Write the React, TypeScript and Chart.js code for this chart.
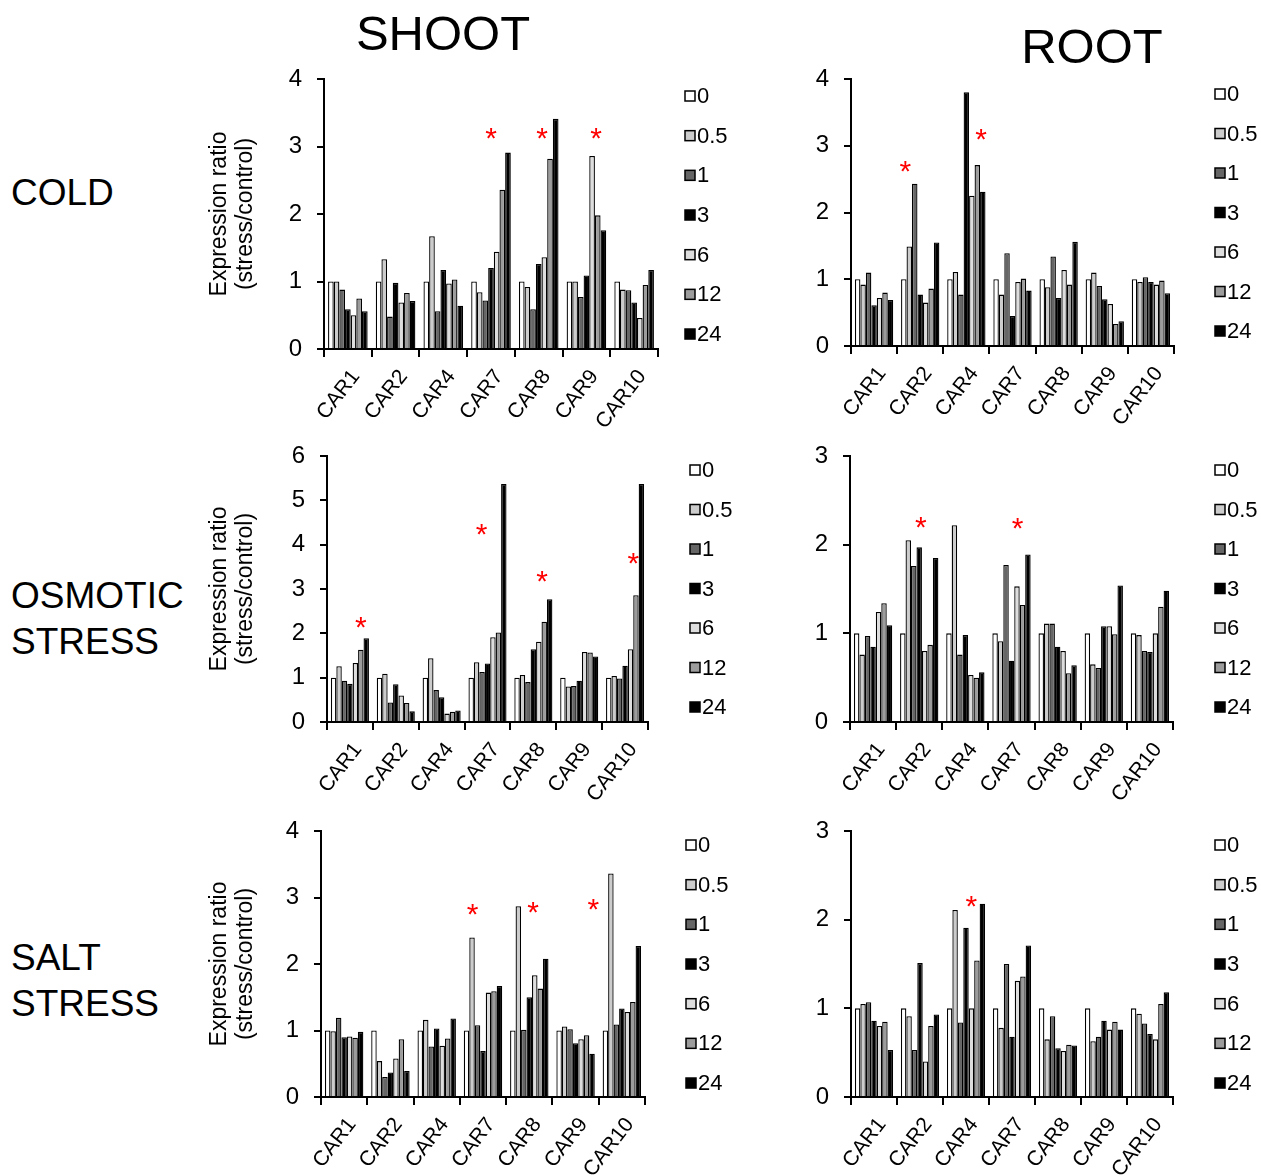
import React, { useEffect, useRef } from "react";
import { Chart, registerables } from "chart.js";

Chart.register(...registerables);

const FONT = "'Liberation Sans', Arial, Helvetica, sans-serif";

const categories = ["CAR1", "CAR2", "CAR4", "CAR7", "CAR8", "CAR9", "CAR10"];
const seriesLabels = ["0", "0.5", "1", "3", "6", "12", "24"];
const seriesColors = ["#ffffff", "#cccccc", "#666666", "#000000", "#dddddd", "#9c9c9c", "#000000"];

// rows = categories, columns = time points (h)
const coldShoot = [
  [1.0, 1.0, 0.88, 0.59, 0.5, 0.75, 0.56],
  [1.0, 1.33, 0.48, 0.98, 0.69, 0.83, 0.71],
  [1.0, 1.67, 0.56, 1.17, 0.97, 1.03, 0.64],
  [1.0, 0.84, 0.72, 1.2, 1.44, 2.36, 2.91],
  [1.0, 0.92, 0.59, 1.26, 1.36, 2.82, 3.41],
  [1.0, 1.0, 0.77, 1.09, 2.86, 1.98, 1.76],
  [1.0, 0.88, 0.87, 0.69, 0.46, 0.95, 1.17],
];
const coldRoot = [
  [1.0, 0.92, 1.1, 0.61, 0.72, 0.8, 0.69],
  [1.0, 1.49, 2.43, 0.77, 0.65, 0.86, 1.55],
  [1.0, 1.11, 0.77, 3.8, 2.25, 2.71, 2.31],
  [1.0, 0.77, 1.39, 0.45, 0.96, 1.01, 0.83],
  [1.0, 0.88, 1.34, 0.72, 1.14, 0.92, 1.56],
  [1.0, 1.1, 0.9, 0.7, 0.63, 0.33, 0.37],
  [1.0, 0.96, 1.03, 0.96, 0.92, 0.98, 0.79],
];
const osmoticShoot = [
  [1.0, 1.26, 0.93, 0.86, 1.33, 1.63, 1.89],
  [1.0, 1.09, 0.44, 0.85, 0.6, 0.43, 0.24],
  [1.0, 1.44, 0.72, 0.56, 0.19, 0.23, 0.26],
  [1.0, 1.35, 1.13, 1.32, 1.91, 2.02, 5.37],
  [1.0, 1.06, 0.9, 1.64, 1.81, 2.26, 2.77],
  [1.0, 0.8, 0.81, 0.93, 1.58, 1.57, 1.48],
  [1.0, 1.04, 0.98, 1.27, 1.64, 2.86, 5.37],
];
const osmoticRoot = [
  [1.0, 0.76, 0.97, 0.85, 1.24, 1.34, 1.09],
  [1.0, 2.05, 1.76, 1.97, 0.8, 0.87, 1.85],
  [1.0, 2.22, 0.76, 0.98, 0.53, 0.5, 0.56],
  [1.0, 0.91, 1.77, 0.69, 1.53, 1.32, 1.89],
  [1.0, 1.11, 1.11, 0.85, 0.8, 0.55, 0.64],
  [1.0, 0.65, 0.61, 1.08, 1.08, 0.99, 1.54],
  [1.0, 0.98, 0.8, 0.79, 1.0, 1.3, 1.48],
];
const saltShoot = [
  [1.0, 0.99, 1.19, 0.9, 0.91, 0.89, 0.98],
  [1.0, 0.54, 0.3, 0.37, 0.58, 0.87, 0.39],
  [1.0, 1.16, 0.76, 1.03, 0.77, 0.88, 1.18],
  [1.0, 2.4, 1.08, 0.69, 1.57, 1.59, 1.67],
  [1.0, 2.87, 1.01, 1.5, 1.83, 1.63, 2.08],
  [1.0, 1.06, 1.02, 0.81, 0.87, 0.93, 0.65],
  [1.0, 3.36, 1.09, 1.33, 1.28, 1.43, 2.27],
];
const saltRoot = [
  [1.0, 1.05, 1.07, 0.86, 0.8, 0.85, 0.53],
  [1.0, 0.91, 0.53, 1.51, 0.4, 0.8, 0.93],
  [1.0, 2.11, 0.84, 1.91, 1.0, 1.54, 2.18],
  [1.0, 0.78, 1.5, 0.68, 1.31, 1.36, 1.71],
  [1.0, 0.65, 0.91, 0.55, 0.52, 0.59, 0.58],
  [1.0, 0.63, 0.68, 0.86, 0.76, 0.85, 0.76],
  [1.0, 0.94, 0.83, 0.71, 0.65, 1.05, 1.18],
];

// significance marks: [category index, position in bar slots (0..7), value]
const coldShootStars = [[3, 3.5, 3.18], [4, 4.1, 3.18], [5, 5.2, 3.18]];
const coldRootStars = [[1, 0.8, 2.68], [2, 6.2, 3.16]];
const osmoticShootStars = [[0, 5.5, 2.24], [3, 2.4, 4.34], [4, 5.1, 3.28], [6, 5.0, 3.67]];
const osmoticRootStars = [[1, 3.8, 2.24], [3, 4.6, 2.23]];
const saltShootStars = [[3, 1.6, 2.82], [4, 4.2, 2.85], [6, -1.7, 2.89]];
const saltRootStars = [[2, 4.5, 2.2]];

const yMaxes = [4, 4, 6, 3, 4, 3];

const CAT_PCT = 0.83;

type Geo = { axisX: number; top: number; right: number; bottom: number; legendX: number; legendY: number; gap: number };

const geometry: Geo[] = [
  { axisX: 324, top: 79, right: 658, bottom: 349, legendX: 685, legendY: 96, gap: 39.67 },
  { axisX: 851, top: 79, right: 1174, bottom: 346, legendX: 1215, legendY: 94, gap: 39.5 },
  { axisX: 327, top: 456, right: 648, bottom: 722, legendX: 690, legendY: 470, gap: 39.5 },
  { axisX: 850, top: 456, right: 1173, bottom: 722, legendX: 1215, legendY: 470, gap: 39.5 },
  { axisX: 321, top: 831, right: 645, bottom: 1097, legendX: 686, legendY: 845, gap: 39.67 },
  { axisX: 851, top: 831, right: 1173, bottom: 1097, legendX: 1215, legendY: 845, gap: 39.67 },
];

const panelRows = [coldShoot, coldRoot, osmoticShoot, osmoticRoot, saltShoot, saltRoot];
const panelStars = [coldShootStars, coldRootStars, osmoticShootStars, osmoticRootStars, saltShootStars, saltRootStars];

function Panel({ idx }: { idx: number }) {
  const ref = useRef<HTMLCanvasElement | null>(null);
  const g = geometry[idx];
  const showTitle = idx % 2 === 0;
  const cl = g.axisX - 120;
  const ct = g.top - 30;
  const cw = Math.min(g.legendX + 46, 1261) - cl;
  const ch = g.bottom + 78 - ct;

  useEffect(() => {
    if (!ref.current) return;
    const rows = panelRows[idx];
    const stars = panelStars[idx];
    const padRight = cw - (g.right - cl);
    const titleFont = 23;
    const titleLH = 1.1;
    const titlePad = 220 - (titleFont * titleLH) / 2 - cl;

    const overlay = {
      id: "overlay" + idx,
      afterDraw(chart: any) {
        const { ctx } = chart;
        const x = chart.scales.x;
        const y = chart.scales.y;
        const catW = x.width / categories.length;
        const barW = (catW * CAT_PCT) / seriesLabels.length;
        ctx.save();
        // stars
        const fs = 30;
        ctx.fillStyle = "#ff0000";
        ctx.font = `${fs}px ${FONT}`;
        ctx.textAlign = "center";
        ctx.textBaseline = "alphabetic";
        stars.forEach(([c, p, v]) => {
          const px = x.getPixelForValue(c) + (p - 3.5) * barW;
          const py = y.getPixelForValue(v);
          ctx.fillText("*", px, py + 0.47 * fs);
        });
        // legend
        ctx.font = `22px ${FONT}`;
        ctx.textAlign = "left";
        ctx.textBaseline = "middle";
        seriesLabels.forEach((lab, i) => {
          const bx = g.legendX - cl;
          const by = g.legendY + i * g.gap - ct;
          ctx.fillStyle = seriesColors[i];
          ctx.fillRect(bx, by - 5, 10, 10);
          ctx.strokeStyle = "#000";
          ctx.lineWidth = 1.5;
          ctx.strokeRect(bx, by - 5, 10, 10);
          ctx.fillStyle = "#000";
          ctx.fillText(lab, bx + 12, by + 1);
        });
        ctx.restore();
      },
    };

    const chart = new Chart(ref.current, {
      type: "bar",
      data: {
        labels: categories,
        datasets: seriesLabels.map((s, i) => ({
          label: s,
          data: rows.map((r) => r[i]),
          backgroundColor: seriesColors[i],
          borderColor: "#000000",
          borderWidth: 1.3,
          barPercentage: 1,
          categoryPercentage: CAT_PCT,
        })),
      },
      options: {
        responsive: false,
        animation: false,
        devicePixelRatio: 1,
        layout: { padding: { left: 0, top: 30, right: padRight, bottom: 0 } },
        plugins: { legend: { display: false }, tooltip: { enabled: false } },
        scales: {
          x: {
            offset: true,
            grid: { display: true, drawOnChartArea: false, drawTicks: true, tickLength: 8, color: "#000", lineWidth: 2, offset: true },
            border: { display: true, color: "#000", width: 2 },
            ticks: {
              color: "#000",
              font: { family: FONT, size: 21 },
              maxRotation: 52,
              minRotation: 52,
              padding: 8,
              labelOffset: 8,
              autoSkip: false,
            },
            afterFit: (s: any) => {
              s.height = 78;
            },
          },
          y: {
            min: 0,
            max: yMaxes[idx],
            ticks: { stepSize: 1, color: "#000", font: { family: FONT, size: 24 }, padding: 15 },
            grid: { display: true, drawOnChartArea: false, drawTicks: true, tickLength: 7, color: "#000", lineWidth: 2 },
            border: { display: true, color: "#000", width: 2 },
            title: {
              display: showTitle,
              text: ["Expression ratio", "(stress/control)"],
              color: "#000",
              font: { family: FONT, size: titleFont, lineHeight: titleLH },
              padding: { top: titlePad, bottom: 0 },
            },
            afterFit: (s: any) => {
              s.width = 120;
            },
          },
        },
      },
      plugins: [overlay],
    } as any);
    return () => chart.destroy();
  }, [idx]);

  return (
    <canvas
      ref={ref}
      width={cw}
      height={ch}
      style={{ position: "absolute", left: cl, top: ct, width: cw, height: ch }}
    />
  );
}

const txt: React.CSSProperties = { position: "absolute", fontFamily: FONT, color: "#000", whiteSpace: "nowrap" };

export default function App() {
  return (
    <div style={{ position: "absolute", left: 0, top: 0, width: 1261, height: 1176, overflow: "hidden", background: "#fff" }}>
      <div style={{ ...txt, left: 343, width: 200, textAlign: "center", top: 8.5, fontSize: 49, lineHeight: "49px" }}>SHOOT</div>
      <div style={{ ...txt, left: 992, width: 200, textAlign: "center", top: 21.5, fontSize: 49, lineHeight: "49px" }}>ROOT</div>
      <div style={{ ...txt, left: 11, top: 175, fontSize: 37, lineHeight: "36px" }}>COLD</div>
      <div style={{ ...txt, left: 11, top: 573, fontSize: 37, lineHeight: "46px" }}>
        OSMOTIC
        <br />
        STRESS
      </div>
      <div style={{ ...txt, left: 11, top: 935, fontSize: 37, lineHeight: "46px" }}>
        SALT
        <br />
        STRESS
      </div>
      {geometry.map((_, i) => (
        <Panel key={i} idx={i} />
      ))}
    </div>
  );
}
